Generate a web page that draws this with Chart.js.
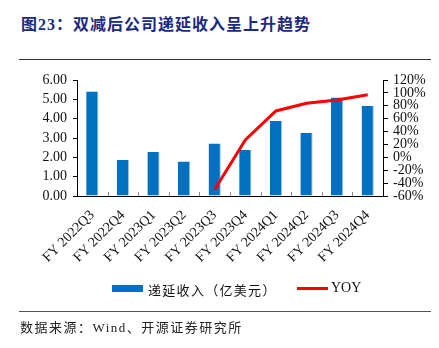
<!DOCTYPE html>
<html>
<head>
<meta charset="utf-8">
<script src="https://cdn.jsdelivr.net/npm/chart.js@4"></script>
<style>
  body { margin: 0; background: #fff; }
  #wrap { position: relative; width: 439px; height: 348px; overflow: hidden; }
  #title { position: absolute; left: 21px; top: 11px; font: bold 16px "Liberation Serif", "Noto Sans CJK SC", serif; color: #1b2a80; letter-spacing: 1px; }
  .rule { position: absolute; left: 19px; width: 412px; height: 1px; background: #333; }
  #foot { position: absolute; left: 20px; top: 317px; font: 13px "Liberation Serif", "Noto Sans CJK SC", serif; color: #222; letter-spacing: 1.5px; }
  #legend { position: absolute; top: 280px; left: 112px; font: 13px "Liberation Serif", "Noto Sans CJK SC", serif; color: #111; }
  #legend span { position: absolute; white-space: nowrap; }
  canvas { position: absolute; left: 0; top: 0; }
</style>
</head>
<body>
<div id="wrap">
  <div id="title">图23：双减后公司递延收入呈上升趋势</div>
  <div class="rule" style="top:59px"></div>
  <canvas id="myChart" width="439" height="348"></canvas>
  <div id="legend">
    <span style="left:0;top:5px;width:31px;height:7px;background:#0070C0"></span>
    <span style="left:36px;top:0;letter-spacing:1.3px">递延收入（亿美元）</span>
    <span style="left:185px;top:7px;width:31px;height:3px;background:#ff0000"></span>
    <span style="left:219px;top:0;font-size:14px">YOY</span>
  </div>
  <div class="rule" style="top:311px;background:#555"></div>
  <div id="foot">数据来源：Wind、开源证券研究所</div>
</div>
<script>
const quarters = ["FY 2022Q3","FY 2022Q4","FY 2023Q1","FY 2023Q2","FY 2023Q3","FY 2023Q4","FY 2024Q1","FY 2024Q2","FY 2024Q3","FY 2024Q4"];
const deferredRevenue = [5.40, 1.86, 2.28, 1.78, 2.72, 2.38, 3.88, 3.26, 5.10, 4.66];
const yoy = [null, null, null, null, -50, 27, 72, 84, 89, 97];

const serif = "'Liberation Serif', 'Times New Roman', serif";

// small tick marks between categories, pointing up from the x axis
const innerTicks = {
    id: 'innerTicks',
    afterDraw(chart) {
        const x = chart.scales.x, ctx = chart.ctx, b = chart.chartArea.bottom;
        ctx.save();
        ctx.strokeStyle = '#888';
        ctx.lineWidth = 1;
        for (let i = 0; i < quarters.length - 1; i++) {
            const px = Math.round((x.getPixelForValue(i) + x.getPixelForValue(i + 1)) / 2) + 0.5;
            ctx.beginPath();
            ctx.moveTo(px, b);
            ctx.lineTo(px, b - 4);
            ctx.stroke();
        }
        ctx.restore();
    }
};

const ctx = document.getElementById('myChart').getContext('2d');
const myChart = new Chart(ctx, {
    data: {
        labels: quarters,
        datasets: [
            {
                type: 'line',
                label: 'YOY',
                data: yoy,
                yAxisID: 'y1',
                borderColor: '#ff0000',
                borderWidth: 3,
                pointRadius: 0,
                tension: 0,
                order: 0
            },
            {
                type: 'bar',
                label: '递延收入（亿美元）',
                data: deferredRevenue,
                yAxisID: 'y',
                backgroundColor: '#0070C0',
                borderColor: '#9cc3e6',
                borderWidth: { right: 1 },
                barPercentage: 0.8,
                categoryPercentage: 0.5,
                order: 1
            }
        ]
    },
    options: {
        responsive: false,
        animation: false,
        layout: { padding: { top: 80, left: 0, right: 0, bottom: 0 } },
        plugins: { legend: { display: false }, tooltip: { enabled: false } },
        scales: {
            x: {
                afterFit: s => { s.height = 152; },
                grid: { display: false, drawOnChartArea: false },
                border: { color: '#000', width: 1 },
                ticks: { color: '#111', font: { family: serif, size: 14 }, minRotation: 45, maxRotation: 45, padding: 3, autoSkip: false }
            },
            y: {
                position: 'left',
                min: 0, max: 6,
                afterFit: s => { s.width = 77; },
                grid: { drawOnChartArea: false, tickLength: 4, color: '#000' },
                border: { color: '#000', width: 1 },
                ticks: { stepSize: 1, color: '#111', padding: 6, autoSkip: false, font: { family: serif, size: 14 }, callback: v => v.toFixed(2) }
            },
            y1: {
                position: 'right',
                min: -60, max: 120,
                afterFit: s => { s.width = 56; },
                grid: { drawOnChartArea: false, tickLength: 5, color: '#000' },
                border: { color: '#000', width: 1 },
                ticks: { stepSize: 20, color: '#111', padding: 5, autoSkip: false, font: { family: serif, size: 14, lineHeight: 1 }, callback: v => v + '%' }
            }
        }
    },
    plugins: [innerTicks]
});
</script>
</body>
</html>
